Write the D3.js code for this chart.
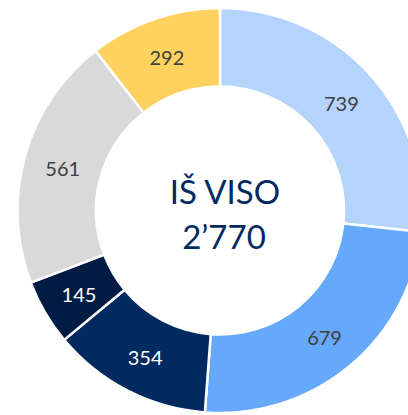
<!DOCTYPE html>
<html>
<head>
<meta charset="utf-8">
<script src="https://cdn.jsdelivr.net/npm/d3@7"></script>
<style>
  body { margin: 0; background: white; }
  svg { display: block; }
</style>
</head>
<body>
<div id="chart"></div>
<script>
const categories = ["a", "b", "c", "d", "e", "f"]
const values = [739, 679, 354, 145, 561, 292]
const colors = ["#B4D4FD", "#66A9FB", "#002A60", "#001C42", "#D9D9D9", "#FFD25F"]
const labelColors = ["#404040", "#404040", "#FFFFFF", "#FFFFFF", "#404040", "#404040"]
const centerTitle = "IŠ VISO"
const centerTotal = "2’770"

const width = 408, height = 415
const cx = 220, cy = 210.5
const outerR = 202.5, innerR = 124

const svg = d3.select("#chart")
              .append("svg")
              .attr("width", width)
              .attr("height", height)

const g = svg.append("g")
             .attr("transform", "translate(" + cx + "," + cy + ")")

const pie = d3.pie()
              .sort(null)
              .value(d => d.value)

const arc = d3.arc()
              .innerRadius(innerR)
              .outerRadius(outerR)

const data = categories.map((c, i) => ({ key: c, value: values[i], color: colors[i], label: labelColors[i] }))
const arcs = pie(data)

g.selectAll("path")
 .data(arcs)
 .enter()
 .append("path")
 .attr("d", arc)
 .attr("fill", d => d.data.color)
 .attr("stroke", "white")
 .attr("stroke-width", 2.5)

g.selectAll("text.val")
 .data(arcs)
 .enter()
 .append("text")
 .attr("class", "val")
 .attr("transform", d => "translate(" + arc.centroid(d) + ")")
 .attr("text-anchor", "middle")
 .attr("dy", "0.46em")
 .attr("font-family", "Lato, sans-serif")
 .attr("font-size", 20)
 .attr("fill", d => d.data.label)
 .text(d => d.data.value)

// center text
svg.append("text")
   .attr("x", 225)
   .attr("y", 204)
   .attr("text-anchor", "middle")
   .attr("font-family", "Lato, sans-serif")
   .attr("font-size", 33)
   .attr("fill", "#002A60")
   .text(centerTitle)

svg.append("text")
   .attr("x", 224)
   .attr("y", 249)
   .attr("text-anchor", "middle")
   .attr("font-family", "Lato, sans-serif")
   .attr("font-size", 33)
   .attr("fill", "#002A60")
   .text(centerTotal)
</script>
</body>
</html>
